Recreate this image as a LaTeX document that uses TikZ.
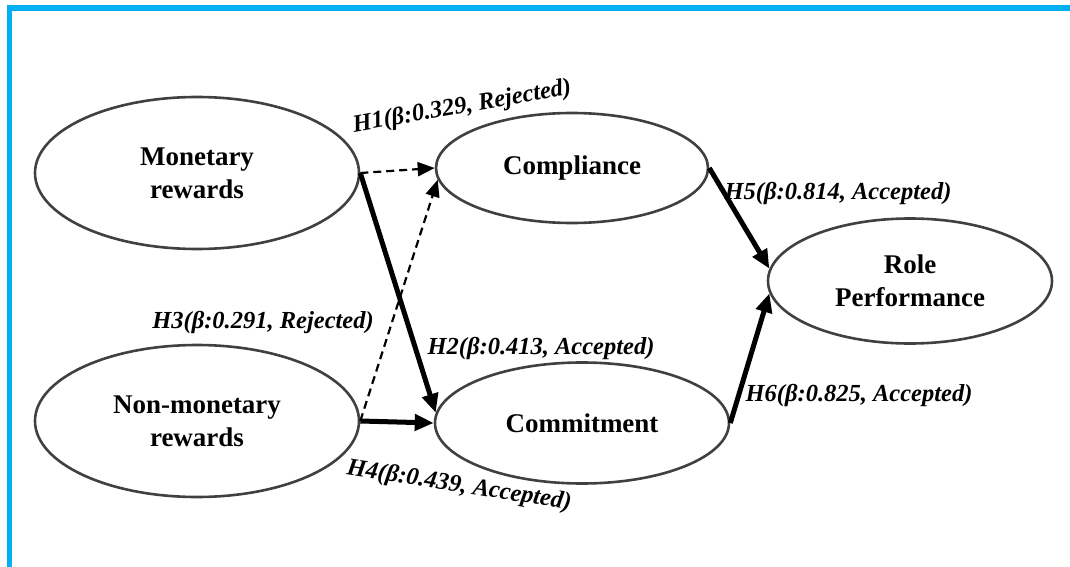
\documentclass[tikz,border=0pt]{standalone}
\usepackage{fontspec}
\setmainfont{Liberation Serif}
\usetikzlibrary{arrows.meta,shapes.geometric}
\definecolor{frameblue}{HTML}{00B0F0}
\definecolor{rim}{HTML}{404040}
\begin{document}
\begin{tikzpicture}[x=1pt,y=-1pt,
  construct/.style={draw=rim,line width=2.6pt,ellipse,inner sep=0pt,align=center,
    font=\fontsize{27}{33}\selectfont\bfseries},
  solidpath/.style={line width=5pt,-{Triangle[length=19pt,width=16pt]}},
  dashpath/.style={line width=2.2pt,dash pattern=on 8pt off 5pt,-{Triangle[length=17pt,width=14pt]}},
  hyp/.style={font=\fontsize{24.5}{28}\selectfont\bfseries\itshape,inner sep=0pt}]
\useasboundingbox (0,0) rectangle (1070,567);
% frame
\fill[frameblue] (7,5) rectangle (1070,11);
\fill[frameblue] (7,5) rectangle (12,567);
% constructs
\node[construct,minimum width=324pt,minimum height=152pt] (mon) at (197,173) {Monetary\\rewards};
\node[construct,minimum width=324pt,minimum height=152pt] (non) at (197,421) {Non-monetary\\rewards};
\node[construct,minimum width=272pt,minimum height=110pt] (comp) at (572,168) {Compliance};
\node[construct,minimum width=294pt,minimum height=121pt] (commit) at (582,423) {Commitment};
\node[construct,minimum width=284pt,minimum height=125pt] (role) at (910,281) {Role\\Performance};
% paths
\draw[dashpath] (mon.east) -- (comp.west);
\draw[dashpath] (non.east) -- (comp.185);
\draw[solidpath] (mon.east) -- (commit.176);
\draw[solidpath] (non.east) -- (commit.west);
\draw[solidpath] (comp.east) -- (role.175);
\draw[solidpath] (commit.east) -- (role.185);
% hypothesis labels
\node[hyp,rotate=10] (h1) at (462,107) {H1(β:0.329, Rejected)};
\node[hyp] (h2) at (541,348) {H2(β:0.413, Accepted)};
\node[hyp] (h3) at (263,322) {H3(β:0.291, Rejected)};
\node[hyp,rotate=-9] (h4) at (459,486) {H4(β:0.439, Accepted)};
\node[hyp] (h5) at (838,193) {H5(β:0.814, Accepted)};
\node[hyp] (h6) at (859,395) {H6(β:0.825, Accepted)};
\end{tikzpicture}
\end{document}
